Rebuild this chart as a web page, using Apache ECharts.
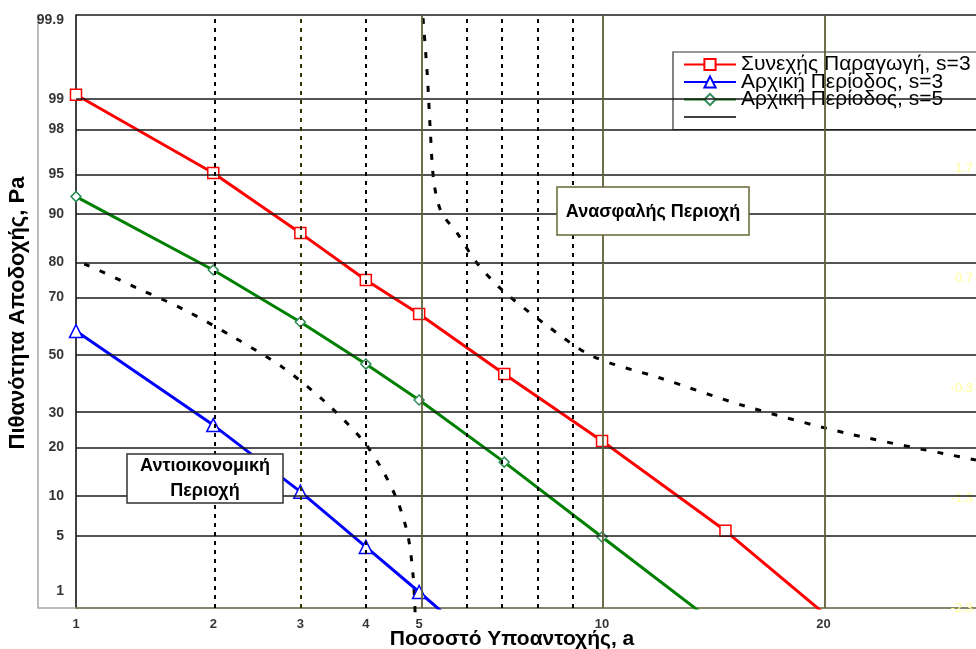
<!DOCTYPE html>
<html>
<head>
<meta charset="utf-8">
<title>Καμπύλες Αποδοχής</title>
<script src="https://cdn.jsdelivr.net/npm/echarts@6/dist/echarts.min.js"></script>
<style>
  html, body { margin: 0; padding: 0; background: #fff; }
  #chart { width: 976px; height: 649px; }
</style>
</head>
<body>
<div id="chart"></div>
<script>
// ---- data (percent values) ----
var probTicks = [1, 5, 10, 20, 30, 50, 70, 80, 90, 95, 98, 99, 99.9];
var aTickLabels = [1, 2, 3, 4, 5, 10, 20];
var aDotted = [2, 4, 6, 7, 8, 9];
var aDottedOlive = [3];
var aSolid = [5, 10, 20];
var xRightPct = 29.5;      // right edge of the plot, %
var zBottom = -2.3;        // bottom of the probability axis (normal score)

var seriesNames = ['Συνεχής Παραγωγή, s=3', 'Αρχική Περίοδος, s=3', 'Αρχική Περίοδος, s=5'];

var contA = [1, 2, 3, 4, 5, 7, 10, 15, 20];
var contP = [99.1, 95.1, 86.6, 75.2, 64.5, 43.1, 21.7, 5.5, 0.95];

var init3A = [1, 2, 3, 4, 5, 6];
var init3P = [58.6, 26.2, 10.7, 4.05, 1.56, 0.6];

var init5A = [1, 2, 3, 4, 5, 7, 10, 15];
var init5P = [92.5, 78.0, 61.8, 46.7, 34.1, 16.5, 4.9, 0.6];

// boundary curves (dashed)
var uneconA = [0.81, 0.96, 1.06, 1.37, 1.74, 2.20, 2.76, 3.35, 3.94, 4.29, 4.58, 4.78, 4.88, 4.92];
var uneconP = [84.1, 80.9, 79.3, 72.9, 65.9, 56.5, 45.7, 33.5, 22.0, 14.8, 9.07, 4.9, 2.18, 0.9];

var unsafeA = [5.08, 5.17, 5.23, 5.31, 5.47, 5.83, 6.28, 6.94, 8.18, 9.66, 12.18, 15.93, 21.51, 29.5];
var unsafeP = [99.89, 99.45, 98.05, 94.2, 90.3, 86.6, 80.1, 72.3, 60.8, 49.6, 41.7, 32.1, 23.6, 17.0];

// ---- normal probability scale ----
function qnorm(p) {
    var a = [-39.69683028665376, 220.9460984245205, -275.9285104469687, 138.3577518672690, -30.66479806614716, 2.506628277459239];
    var b = [-54.47609879822406, 161.5858368580409, -155.6989798598866, 66.80131188771972, -13.28068155288572];
    var c = [-0.007784894002430293, -0.3223964580411365, -2.400758277161838, -2.549732539343734, 4.374664141464968, 2.938163982698783];
    var d = [0.007784695709041462, 0.3224671290700398, 2.445134137142996, 3.754408661907416];
    var pl = 0.02425, q, r;
    if (p < pl) {
        q = Math.sqrt(-2 * Math.log(p));
        return (((((c[0]*q+c[1])*q+c[2])*q+c[3])*q+c[4])*q+c[5]) / ((((d[0]*q+d[1])*q+d[2])*q+d[3])*q+1);
    }
    if (p > 1 - pl) {
        q = Math.sqrt(-2 * Math.log(1 - p));
        return -(((((c[0]*q+c[1])*q+c[2])*q+c[3])*q+c[4])*q+c[5]) / ((((d[0]*q+d[1])*q+d[2])*q+d[3])*q+1);
    }
    q = p - 0.5; r = q * q;
    return (((((a[0]*r+a[1])*r+a[2])*r+a[3])*r+a[4])*r+a[5])*q / (((((b[0]*r+b[1])*r+b[2])*r+b[3])*r+b[4])*r+1);
}
function zp(pct) { return qnorm(pct / 100); }
function toPts(xs, ps) {
    var res = [];
    for (var i = 0; i < xs.length; i++) res.push([zp(xs[i]), zp(ps[i])]);
    return res;
}

var X_MIN = zp(aTickLabels[0]);
var X_MAX = zp(xRightPct);
var Y_MIN = zBottom;
var Y_MAX = zp(probTicks[probTicks.length - 1]);

var FONT = '"Liberation Sans", Arial, sans-serif';
var OLIVE = '#5f5f38';

// grid lines as mark lines
var gridLines = [];
probTicks.forEach(function (p) {
    var z = zp(p);
    if (z > Y_MIN) gridLines.push({ yAxis: z, lineStyle: { color: '#1a1a1a', width: 1.5, type: 'solid' } });
});
aDotted.forEach(function (a) {
    gridLines.push({ xAxis: zp(a), lineStyle: { color: '#000', width: 2, type: [4, 5] } });
});
aDottedOlive.forEach(function (a) {
    gridLines.push({ xAxis: zp(a), lineStyle: { color: '#333300', width: 2, type: [4, 5] } });
});
aSolid.forEach(function (a) {
    gridLines.push({ xAxis: zp(a), lineStyle: { color: OLIVE, width: 1.8, type: 'solid' } });
});

var yLabelPts = probTicks.map(function (p) {
    var z = Math.min(Math.max(zp(p), Y_MIN + 0.15), Y_MAX - 0.05);
    return [X_MIN, z];
});
var xLabelPts = aTickLabels.map(function (a) { return [zp(a), Y_MIN]; });

var myChart = echarts.init(document.getElementById('chart'));

var option = {
    animation: false,
    backgroundColor: '#fff',
    textStyle: { fontFamily: FONT },
    grid: { left: 76, top: 15, right: 0, bottom: 41 },
    xAxis: {
        type: 'value', min: X_MIN, max: X_MAX,
        axisLine: { onZero: false, lineStyle: { color: OLIVE, width: 1.5 } },
        axisTick: { show: false }, axisLabel: { show: false }, splitLine: { show: false }
    },
    yAxis: [
        {
            type: 'value', min: Y_MIN, max: Y_MAX,
            axisLine: { show: true, onZero: false, lineStyle: { color: '#000', width: 1.5 } },
            axisTick: { show: false }, axisLabel: { show: false }, splitLine: { show: false }
        },
        {
            // faint secondary scale (normal scores), shifted so min is 0
            type: 'value', position: 'right', min: 0, max: Y_MAX - Y_MIN, interval: 1,
            axisLine: { show: false }, axisTick: { show: false }, splitLine: { show: false },
            axisLabel: {
                inside: true, margin: 3, color: '#ffff99', fontSize: 13, showMaxLabel: false,
                formatter: function (v) { return (v + Y_MIN).toFixed(1); }
            }
        },
        {
            type: 'value', position: 'left', offset: 38, min: Y_MIN, max: Y_MAX,
            axisLine: { show: true, onZero: false, lineStyle: { color: '#a6a6a6', width: 1.5 } },
            axisTick: { show: false }, axisLabel: { show: false }, splitLine: { show: false }
        }
    ],
    legend: {
        orient: 'vertical', left: 673, top: 52,
        padding: [2, 40, 2, 10], itemGap: -3.5, itemWidth: 52, itemHeight: 14,
        backgroundColor: '#fff', borderColor: '#333', borderWidth: 1.2, borderRadius: 0,
        textStyle: { fontFamily: FONT, fontSize: 21, color: '#000', lineHeight: 17.5 },
        data: [
            { name: seriesNames[0] },
            { name: seriesNames[1] },
            { name: seriesNames[2] },
            { name: ' ', icon: 'path://M0,0H52V1.5H0Z', itemStyle: { color: '#000' } }
        ]
    },
    graphic: [
        { type: 'line', z: 100, shape: { x1: 38, y1: 608, x2: 76, y2: 608 }, style: { stroke: '#a6a6a6', lineWidth: 1.5 } },
        { type: 'rect', z: 100, shape: { x: 127, y: 454, width: 156, height: 49 }, style: { fill: '#fff', stroke: '#333', lineWidth: 1.5 } },
        { type: 'text', z: 101, x: 205, y: 479, style: { text: 'Αντιοικονομική\nΠεριοχή', align: 'center', verticalAlign: 'middle', fontFamily: FONT, fontWeight: 'bold', fontSize: 18, lineHeight: 25, fill: '#000' } },
        { type: 'rect', z: 100, shape: { x: 557, y: 187, width: 192, height: 48 }, style: { fill: '#fff', stroke: '#666633', lineWidth: 1.5 } },
        { type: 'text', z: 101, x: 653, y: 212, style: { text: 'Ανασφαλής Περιοχή', align: 'center', verticalAlign: 'middle', fontFamily: FONT, fontWeight: 'bold', fontSize: 18, fill: '#000' } },
        { type: 'text', z: 101, x: 512, y: 639, style: { text: 'Ποσοστό Υποαντοχής, a', align: 'center', verticalAlign: 'middle', fontFamily: FONT, fontWeight: 'bold', fontSize: 21, fill: '#000' } },
        { type: 'text', z: 101, x: 18, y: 313, rotation: Math.PI / 2, style: { text: 'Πιθανότητα Αποδοχής, Pa', align: 'center', verticalAlign: 'middle', fontFamily: FONT, fontWeight: 'bold', fontSize: 22, fill: '#000' } }
    ],
    series: [
        {
            name: 'yLabels', type: 'scatter', data: yLabelPts, z: 1, silent: true, clip: false,
            symbolSize: 0.1, itemStyle: { color: 'transparent' },
            label: {
                show: true, position: 'left', distance: 12, color: '#000',
                fontWeight: 'bold', fontSize: 14, fontFamily: FONT,
                formatter: function (p) { return String(probTicks[p.dataIndex]); }
            },
            markLine: {
                silent: true, symbol: ['none', 'none'], label: { show: false },
                animation: false, data: gridLines
            }
        },
        {
            name: 'xLabels', type: 'scatter', data: xLabelPts, z: 1, silent: true, clip: false,
            symbolSize: 0.1, itemStyle: { color: 'transparent' },
            label: {
                show: true, position: 'bottom', distance: 10, color: '#000',
                fontWeight: 'bold', fontSize: 13, fontFamily: FONT,
                formatter: function (p) { return String(aTickLabels[p.dataIndex]); }
            }
        },
        {
            name: ' ', type: 'line', data: toPts(uneconA, uneconP), z: 2, clip: false,
            symbol: 'none', smooth: 0.3,
            lineStyle: { color: '#000', width: 3, type: [6, 11] }, itemStyle: { color: '#000' }
        },
        {
            name: ' ', type: 'line', data: toPts(unsafeA, unsafeP), z: 2, clip: false,
            symbol: 'none', smooth: 0.3,
            lineStyle: { color: '#000', width: 3, type: [6, 11] }, itemStyle: { color: '#000' }
        },
        {
            name: seriesNames[0], type: 'line', data: toPts(contA, contP), z: 3,
            symbol: 'rect', symbolSize: 11,
            lineStyle: { color: '#ff0000', width: 3 },
            itemStyle: { color: '#fff', borderColor: '#ff0000', borderWidth: 1.5 }
        },
        {
            name: seriesNames[1], type: 'line', data: toPts(init3A, init3P), z: 3,
            symbol: 'triangle', symbolSize: 13,
            lineStyle: { color: '#0000ff', width: 3 },
            itemStyle: { color: '#fff', borderColor: '#0000ff', borderWidth: 1.5 }
        },
        {
            name: seriesNames[2], type: 'line', data: toPts(init5A, init5P), z: 3,
            symbol: 'diamond', symbolSize: 10,
            lineStyle: { color: '#008000', width: 3 },
            itemStyle: { color: '#fff', borderColor: '#2e8b57', borderWidth: 1.5 }
        }
    ]
};

myChart.setOption(option);
window.addEventListener('resize', function () {
    myChart.resize();
});
</script>
</body>
</html>
